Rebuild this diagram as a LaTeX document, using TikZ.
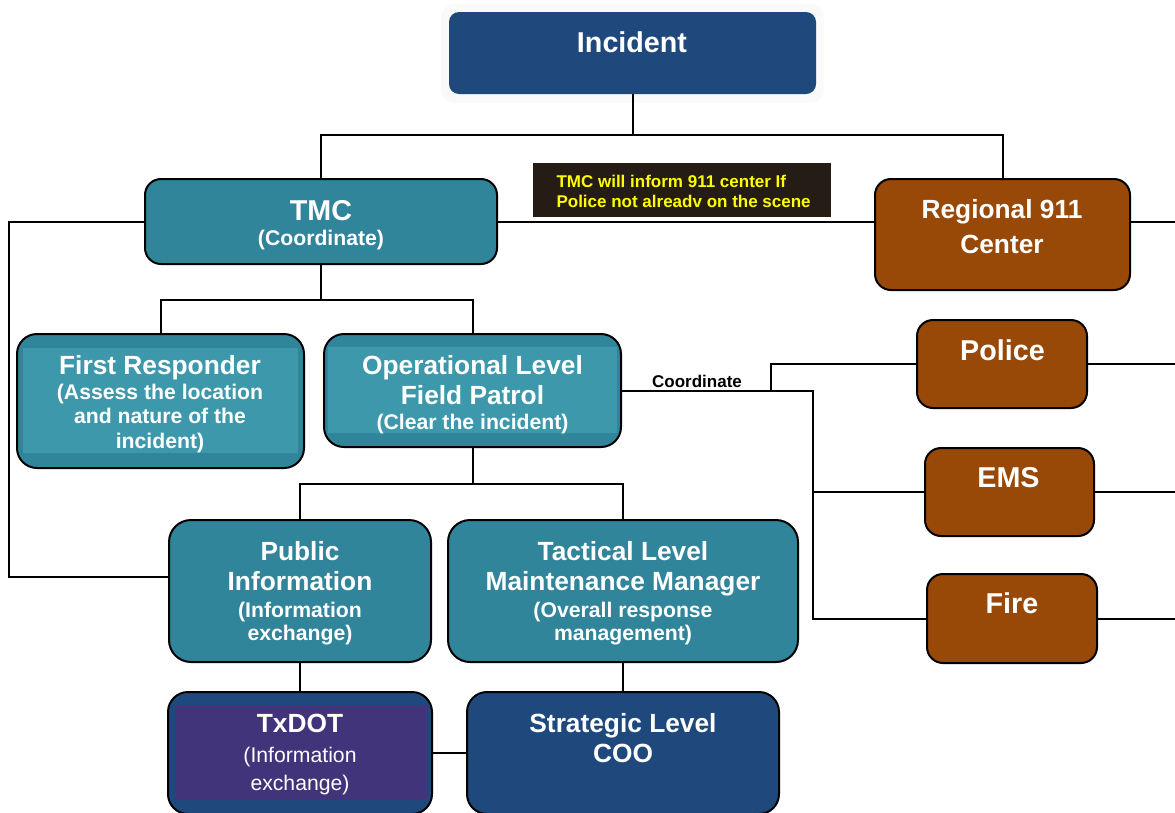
\documentclass[tikz,border=0pt]{standalone}
\usepackage{fontspec}
\setmainfont{Liberation Sans}
\usetikzlibrary{positioning, calc}
\definecolor{incnavy}{RGB}{31, 73, 125}
\definecolor{tmcteal}{RGB}{49, 133, 155}
\definecolor{tealhi}{RGB}{62, 152, 171}
\definecolor{agbrown}{RGB}{152, 72, 7}
\definecolor{txpurple}{RGB}{66, 52, 122}
\definecolor{notedark}{RGB}{38, 28, 22}
\definecolor{noteyellow}{RGB}{255, 255, 0}
\tikzset{
    box/.style={
        rectangle, rounded corners=16pt, inner sep=0pt,
        draw=black, line width=2pt
    },
    tealbox/.style={box, fill=tmcteal},
    brownbox/.style={box, fill=agbrown},
    navybox/.style={box, fill=incnavy},
    link/.style={draw=black, line width=2pt},
    hugetxt/.style={anchor=base, align=center, text=white,
        font=\fontsize{28.7}{32}\selectfont\bfseries},
    titletxt/.style={anchor=base, align=center, text=white,
        font=\fontsize{26.3}{30}\selectfont\bfseries},
    subtxt/.style={anchor=base, align=center, text=white,
        font=\fontsize{21.2}{24.5}\selectfont\bfseries},
    lbl/.style={anchor=base, font=\fontsize{17}{20.5}\selectfont\bfseries},
}

\begin{document}
\begin{tikzpicture}[x=1pt, y=-1pt]
    \useasboundingbox (0,0) rectangle (1175,812);
    \clip (0,0) rectangle (1175,812);
    \fill[white] (0,0) rectangle (1175,812);
    \coordinate (rim) at (1175,0);

    \fill[black!2, rounded corners=14pt] (441,4) rectangle (824,103);
    \node[rectangle, rounded corners=10pt, fill=incnavy, minimum width=367pt, minimum height=82pt] (incident) at (632.5,53) {};
    \node[tealbox, minimum width=352pt, minimum height=85pt] (tmc) at (321,221.5) {};
    \node[brownbox, minimum width=255pt, minimum height=111pt] (regional) at (1002.5,234.5) {};
    \node[rectangle, fill=notedark, minimum width=298pt, minimum height=54pt] (note) at (682,190) {};

    \node[tealbox, rounded corners=20pt, minimum width=287pt, minimum height=134pt] (firstresp) at (160.5,401) {};
    \node[tealbox, rounded corners=20pt, minimum width=297pt, minimum height=113pt] (oplevel) at (472.5,390.5) {};
    \fill[tealhi] (23,348) rectangle (298,453);
    \fill[tealhi] (328,347) rectangle (617,433);

    \node[brownbox, minimum width=170pt, minimum height=88pt] (police) at (1002,364) {};
    \node[brownbox, minimum width=169pt, minimum height=88pt] (ems) at (1009.5,492) {};
    \node[brownbox, minimum width=170pt, minimum height=89pt] (fire) at (1012,618.5) {};

    \node[tealbox, rounded corners=22pt, minimum width=262pt, minimum height=142pt] (pubinfo) at (300,591) {};
    \node[tealbox, rounded corners=22pt, minimum width=350pt, minimum height=142pt] (tactical) at (623,591) {};
    \node[navybox, rounded corners=20pt, minimum width=264pt, minimum height=122pt] (txdot) at (300,753) {};
    \node[navybox, rounded corners=20pt, minimum width=312pt, minimum height=122pt] (strategic) at (623,753) {};
    \fill[txpurple] (175,705) rectangle (428,800);

    \draw[link] (incident.south) -- ++(0,41) -| (tmc.north);
    \draw[link] (incident.south) -- ++(0,41) -| (regional.north);
    \draw[link] (tmc.east) -- (tmc.east -| regional.west);
    \draw[link] (regional.east |- tmc.east) -- (rim |- tmc.east);
    \draw[link] (tmc.west) -- ++(-135,0) |- ([yshift=14pt]pubinfo.west);
    \draw[link] (tmc.south) -- ++(0,35) -| (firstresp.north);
    \draw[link] (tmc.south) -- ++(0,35) -| (oplevel.north);
    \draw[link] (oplevel.east) -- ++(149,0) |- (police.west);
    \draw[link] (oplevel.east) -- ++(191,0) coordinate (split) |- (ems.west);
    \draw[link] (split) |- (fire.west);
    \draw[link] (police.east) -- (police.east -| rim);
    \draw[link] (ems.east) -- (ems.east -| rim);
    \draw[link] (fire.east) -- (fire.east -| rim);
    \draw[link] (oplevel.south) -- ++(0,36) -| (pubinfo.north);
    \draw[link] (oplevel.south) -- ++(0,36) -| (tactical.north);
    \draw[link] (pubinfo.south) -- (txdot.north);
    \draw[link] (tactical.south) -- (strategic.north);
    \draw[link] (txdot.east) -- (strategic.west);

    \node[hugetxt] (incident-t) at (632,52) {Incident};
    \node[hugetxt] (tmc-t) at (321,220) {TMC};
    \node[subtxt] (tmc-s) at (321,245.5) {(Coordinate)};
    \node[titletxt, font=\fontsize{26.3}{35}\selectfont\bfseries] (regional-t) at (1002,253) {Regional 911\\Center};
    \node[lbl, anchor=base west, align=left, text=noteyellow] (note-t) at (553,207.5) {TMC will inform 911 center If\\Police not alreadv on the scene};

    \node[titletxt] (firstresp-t) at (160,374) {First Responder};
    \node[subtxt] (firstresp-s) at (160,448) {(Assess the location\\and nature of the\\incident)};
    \node[titletxt] (oplevel-t) at (472.5,404) {Operational Level\\Field Patrol};
    \node[subtxt] (oplevel-s) at (472.5,429) {(Clear the incident)};
    \node[lbl] (coord-l) at (697,387) {Coordinate};

    \node[hugetxt] (police-t) at (1002.5,360) {Police};
    \node[hugetxt] (ems-t) at (1008.5,487) {EMS};
    \node[hugetxt] (fire-t) at (1012,613) {Fire};

    \node[titletxt] (pubinfo-t) at (300,590) {Public\\Information};
    \node[subtxt, font=\fontsize{21.2}{23}\selectfont\bfseries] (pubinfo-s) at (300,640) {(Information\\exchange)};
    \node[titletxt] (tactical-t) at (623,590) {Tactical Level\\Maintenance Manager};
    \node[subtxt, font=\fontsize{21.2}{23}\selectfont\bfseries] (tactical-s) at (623,640) {(Overall response\\management)};

    \node[titletxt] (txdot-t) at (300,732) {TxDOT};
    \node[subtxt, font=\fontsize{21.2}{28}\selectfont] (txdot-s) at (300,790) {(Information\\exchange)};
    \node[titletxt] (strategic-t) at (623,762) {Strategic Level\\COO};
\end{tikzpicture}
\end{document}
